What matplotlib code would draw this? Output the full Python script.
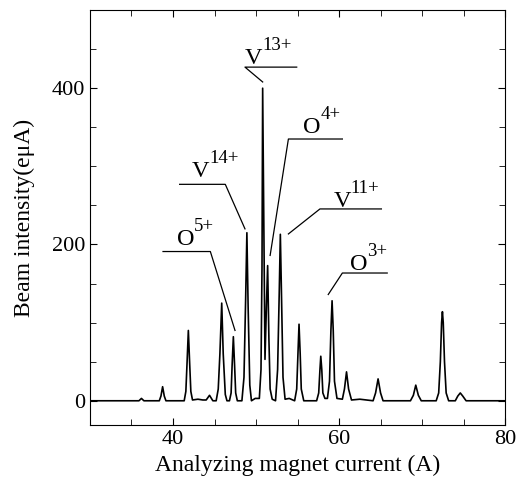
import matplotlib
matplotlib.use("Agg")
import matplotlib.pyplot as plt
from matplotlib.ticker import MultipleLocator

plt.rcParams["font.family"] = "Liberation Serif"

# beam spectrum traced point by point (current in A, intensity in euA)
current = [
    30.0, 35.9, 36.2, 36.5, 38.35, 38.55, 38.75, 38.95, 39.15,
    41.35, 41.55, 41.7, 41.85, 42.0, 42.15, 42.35, 43.0, 43.6,
    44.0, 44.4, 44.8,
    45.2, 45.45, 45.65, 45.87, 46.05, 46.3, 46.5,
    46.8, 47.0, 47.12, 47.27, 47.42, 47.55, 47.75,
    48.3, 48.55, 48.75, 48.9, 49.05, 49.25, 49.45, 49.9,
    50.4, 50.6, 50.72, 50.8, 51.08, 51.25, 51.4, 51.55, 51.7, 51.95,
    52.35, 52.6, 52.8, 52.93, 53.06, 53.25, 53.5,
    54.0, 54.65, 54.9, 55.05, 55.18, 55.32, 55.45, 55.75,
    57.3, 57.55, 57.7, 57.8, 57.92, 58.05, 58.3,
    58.6, 58.85, 59.02, 59.16, 59.3, 59.45, 59.75,
    60.4, 60.65, 60.9, 61.15, 61.5,
    62.5, 64.1, 64.4, 64.7, 65.0, 65.3,
    68.6, 68.95, 69.24, 69.55, 69.9,
    71.7, 72.0, 72.2, 72.35, 72.45, 72.55, 72.7, 72.9, 73.2,
    74.0, 74.3, 74.6, 74.9, 75.3, 80.0,
]
intensity = [
    0, 0, 3, 0, 0, 6, 18, 6, 0,
    0, 12, 50, 90, 50, 12, 1, 2, 1,
    1, 7, 0,
    0, 15, 60, 125, 60, 8, 0,
    0, 10, 45, 82, 45, 10, 0,
    0, 30, 130, 215, 120, 20, 0, 3,
    3, 40, 170, 400, 53, 120, 173, 80, 15, 2,
    0, 40, 140, 213, 140, 30, 2,
    3, 0, 15, 60, 98, 60, 15, 0,
    0, 10, 40, 57, 40, 10, 3,
    3, 25, 90, 128, 90, 25, 3,
    2, 15, 37, 15, 1,
    2, 0, 10, 28, 10, 0,
    0, 7, 20, 7, 0,
    0, 10, 50, 100, 114, 100, 50, 10, 0,
    0, 6, 10, 6, 0, 0,
]

# ion labels: element, charge, text anchor (left, baseline), leader elbow,
# leader end on the peak, far end of the shelf
elements = ["V", "O", "V", "O", "V", "O"]
charges = ["13+", "4+", "14+", "5+", "11+", "3+"]
text_xy = [(48.67, 431), (55.7, 343), (42.3, 287), (40.45, 199), (59.3, 248), (61.3, 167)]
elbow_xy = [(48.67, 427), (53.9, 335), (46.3, 277), (44.5, 191), (57.7, 245.5), (60.4, 163.5)]
tip_xy = [(50.8, 408), (51.7, 186), (48.67, 220), (47.47, 90), (53.9, 213.5), (58.7, 136)]
shelf_x = [54.9, 60.4, 40.8, 38.8, 65.1, 65.8]

fig = plt.figure(figsize=(5.17, 4.8), dpi=100)
ax = fig.add_axes([0.174, 0.1146, 0.803, 0.8644])

ax.plot(current, intensity, color="black", lw=1.2)

for el, q, (tx, ty), (ex, ey), (px, py), sx in zip(
        elements, charges, text_xy, elbow_xy, tip_xy, shelf_x):
    ax.plot([sx, ex, px], [ey, ey, py], color="black", lw=0.9)
    ax.text(tx, ty, el, ha="left", va="baseline", fontsize=17.5)
    ax.annotate(q, xy=(tx, ty), xytext=(12.5, 10), textcoords="offset points",
                ha="left", va="baseline", fontsize=13.5)

ax.set_xlim(30, 80)
ax.set_ylim(-31, 500)
ax.xaxis.set_major_locator(MultipleLocator(20))
ax.xaxis.set_minor_locator(MultipleLocator(5))
ax.yaxis.set_major_locator(MultipleLocator(200))
ax.yaxis.set_minor_locator(MultipleLocator(50))
ax.tick_params(which="both", direction="in", top=True, right=True, labelsize=16)
ax.tick_params(which="major", length=5)
ax.tick_params(which="minor", length=4)

ax.set_xlabel("Analyzing magnet current (A)", fontsize=17, labelpad=4)
ax.set_ylabel("Beam intensity(eμA)", fontsize=17, labelpad=12)

fig.savefig("out.png", dpi=100)
